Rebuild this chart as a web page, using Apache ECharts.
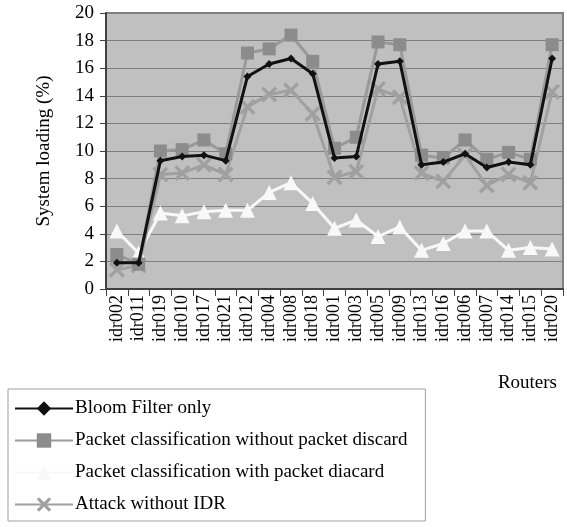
<!DOCTYPE html>
<html>
<head>
<meta charset="utf-8">
<script src="https://cdn.jsdelivr.net/npm/echarts@6/dist/echarts.min.js"></script>
<style>
  html,body{margin:0;padding:0;background:#fff;}
  #chart{width:567px;height:527px;}
</style>
</head>
<body>
<div id="chart"></div>
<script>
  var routers=['idr002','idr011','idr019','idr010','idr017','idr021','idr012','idr004','idr008','idr018',
    'idr001','idr003','idr005','idr009','idr013','idr016','idr006','idr007','idr014','idr015','idr020'];
  var bloomOnly=[1.9,1.9,9.3,9.6,9.7,9.3,15.4,16.3,16.7,15.6,9.5,9.6,16.3,16.5,9.0,9.2,9.8,8.8,9.2,9.0,16.7];
  var noDiscard=[2.5,1.8,10.0,10.1,10.8,9.8,17.1,17.4,18.4,16.5,10.2,11.0,17.9,17.7,9.7,9.5,10.8,9.4,9.9,9.4,17.7];
  var withDiscard=[4.2,2.6,5.5,5.3,5.6,5.7,5.7,7.0,7.7,6.2,4.4,5.0,3.8,4.5,2.8,3.3,4.2,4.2,2.8,3.0,2.9];
  var noIDR=[1.4,1.7,8.3,8.4,9.0,8.3,13.2,14.1,14.4,12.7,8.1,8.5,14.5,13.9,8.4,7.8,9.7,7.5,8.3,7.7,14.3];
  var yTicks={min:0,max:20,step:2};

  var font='"Liberation Serif","DejaVu Serif",serif';
  var crossPath='path://M0,1.5L1.5,0L5,3.5L8.5,0L10,1.5L6.5,5L10,8.5L8.5,10L5,6.5L1.5,10L0,8.5L3.5,5Z';

  var myChart=echarts.init(document.getElementById('chart'));
  var option={
    animation:false,
    backgroundColor:'#fff',
    textStyle:{fontFamily:font,color:'#000'},
    grid:{
      left:106,right:4,top:13,bottom:238,
      show:true,
      backgroundColor:'#c0c0c0',
      borderColor:'#808080',
      borderWidth:2
    },
    legend:{
      orient:'vertical',
      left:8,top:389,
      width:417,
      padding:[10,18,7,6],
      itemGap:13,
      itemWidth:58,itemHeight:18,
      borderColor:'#a0a0a0',
      borderWidth:1,
      textStyle:{fontFamily:font,fontSize:19,lineHeight:17,color:'#000',padding:[0,0,0,-3]},
      data:['Bloom Filter only','Packet classification without packet discard','Packet classification with packet diacard','Attack without IDR']
    },
    xAxis:{
      type:'category',
      data:routers,
      boundaryGap:true,
      axisLine:{lineStyle:{color:'#404040',width:2}},
      axisTick:{show:true,length:7,interval:0,lineStyle:{color:'#404040',width:1}},
      axisLabel:{rotate:90,interval:0,fontFamily:font,fontSize:18,color:'#000',margin:6}
    },
    yAxis:{
      type:'value',
      min:yTicks.min,max:yTicks.max,interval:yTicks.step,
      name:'System loading (%)',
      nameLocation:'middle',
      nameGap:52,
      nameTextStyle:{fontFamily:font,fontSize:19,color:'#000'},
      axisLine:{show:true,lineStyle:{color:'#404040',width:2}},
      axisTick:{show:true,length:6,lineStyle:{color:'#404040'}},
      axisLabel:{fontFamily:font,fontSize:19,color:'#000',margin:12},
      splitLine:{show:true,lineStyle:{color:'#808080',width:1}}
    },
    graphic:[{
      type:'text',
      right:10,top:374,
      style:{text:'Routers',font:'19px '+font,fill:'#000'}
    }],
    series:[
      {
        name:'Packet classification with packet diacard',
        type:'line',
        data:withDiscard,
        z:2,
        showAllSymbol:true,
        symbol:'triangle',symbolSize:15,
        lineStyle:{color:'#f8f8f8',width:3},
        itemStyle:{color:'#f8f8f8'}
      },
      {
        name:'Attack without IDR',
        type:'line',
        data:noIDR,
        z:3,
        showAllSymbol:true,
        symbol:crossPath,symbolSize:16,
        lineStyle:{color:'#a0a0a0',width:3},
        itemStyle:{color:'#a0a0a0'}
      },
      {
        name:'Packet classification without packet discard',
        type:'line',
        data:noDiscard,
        z:4,
        showAllSymbol:true,
        symbol:'rect',symbolSize:13,
        lineStyle:{color:'#999999',width:3},
        itemStyle:{color:'#8c8c8c'}
      },
      {
        name:'Bloom Filter only',
        type:'line',
        data:bloomOnly,
        z:5,
        showAllSymbol:true,
        symbol:'diamond',symbolSize:8,
        lineStyle:{color:'#111',width:3},
        itemStyle:{color:'#111'}
      }
    ]
  };
  myChart.setOption(option);
</script>
</body>
</html>
